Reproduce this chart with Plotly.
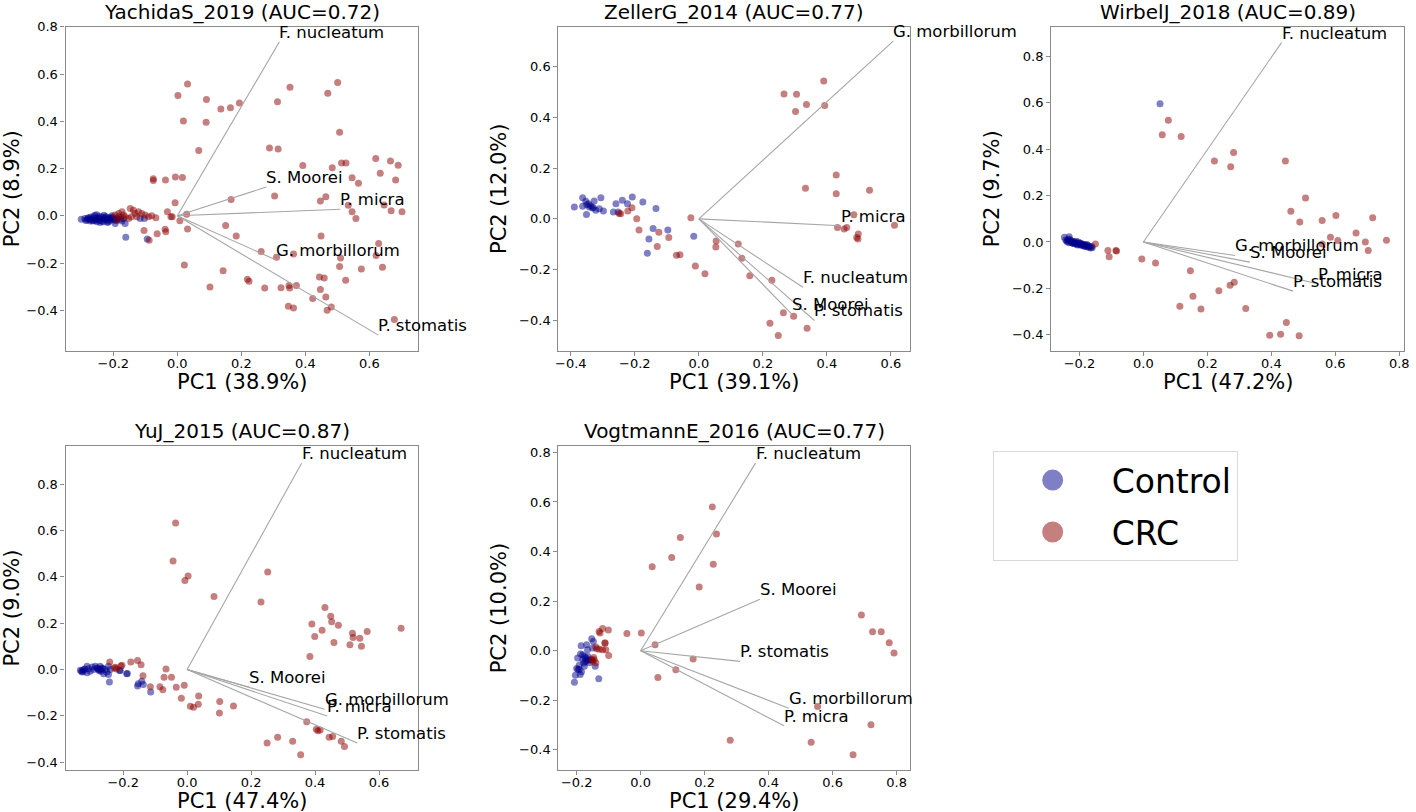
import plotly.graph_objects as go

FONT = "DejaVu Sans"
CTRL_COLOR = "rgba(0,0,139,0.5)"
CRC_COLOR = "rgba(139,0,0,0.5)"
CTRL_LEGEND = "#7f7fc6"
CRC_LEGEND = "#c57f7f"
LOAD_COLOR = "#a6a6a6"
FRAME_COLOR = "#8a8a8a"

titles = ["YachidaS_2019 (AUC=0.72)", "ZellerG_2014 (AUC=0.77)", "WirbelJ_2018 (AUC=0.89)",
          "YuJ_2015 (AUC=0.87)", "VogtmannE_2016 (AUC=0.77)"]
pc1_labels = ["PC1 (38.9%)", "PC1 (39.1%)", "PC1 (47.2%)", "PC1 (47.4%)", "PC1 (29.4%)"]
pc2_labels = ["PC2 (8.9%)", "PC2 (12.0%)", "PC2 (9.7%)", "PC2 (9.0%)", "PC2 (10.0%)"]

# ---------------- YachidaS_2019 ----------------
p1_ctrl_x = [-0.300, -0.289, -0.282, -0.277, -0.272, -0.266, -0.261, -0.256, -0.251, -0.246,
             -0.240, -0.235, -0.230, -0.225, -0.220, -0.215, -0.209, -0.204, -0.199, -0.194,
             -0.189, -0.183, -0.178, -0.173, -0.168, -0.163, -0.116, -0.103, -0.161, -0.094,
             -0.270, -0.260, -0.250, -0.245, -0.235, -0.231, -0.226, -0.221, -0.211, -0.255,
             -0.265, -0.241, -0.280, -0.252, -0.229, -0.214, -0.201, -0.191, -0.286, -0.274,
             -0.243, -0.218, -0.207, -0.196, -0.258]
p1_ctrl_y = [-0.014, -0.011, -0.018, -0.008, -0.022, -0.014, -0.004, -0.018, -0.025, -0.008,
             -0.015, -0.022, -0.011, -0.004, -0.018, -0.025, -0.011, 0.000, -0.018, -0.032,
             -0.011, -0.004, -0.014, -0.022, -0.011, -0.032, -0.011, -0.011, -0.091, -0.098,
             -0.005, -0.020, -0.010, -0.020, -0.005, -0.025, -0.015, -0.005, -0.020, -0.012,
             -0.022, -0.028, -0.010, 0.005, 0.002, -0.010, -0.008, -0.020, -0.020, -0.015,
             -0.002, -0.028, -0.006, -0.014, 0.002]
p1_crc_x = [0.032, 0.002, 0.091, 0.136, 0.166, 0.194, 0.019, 0.090, 0.067, 0.352,
            0.501, 0.470, 0.313, 0.507, 0.288, 0.315, 0.392, 0.484, 0.513, 0.527,
            0.620, 0.666, 0.690, 0.634, 0.682, 0.546, 0.566, -0.075, -0.075, -0.037,
            -0.006, 0.016, -0.007, 0.168, 0.304, 0.464, 0.447, 0.534, 0.646, 0.546,
            0.558, 0.668, 0.702, 0.029, -0.031, -0.020, -0.016, 0.008, 0.032, -0.038,
            -0.036, -0.063, -0.104, -0.088, 0.151, 0.184, 0.262, 0.449, 0.363, 0.310,
            0.510, 0.629, 0.621, 0.507, 0.575, 0.641, 0.526, 0.444, 0.459, 0.022,
            0.143, 0.219, 0.224, 0.102, 0.273, 0.324, 0.349, 0.351, 0.372, 0.447,
            0.423, 0.464, 0.347, 0.363, 0.481, 0.468, 0.678,
            -0.194, -0.183, -0.173, -0.168, -0.163, -0.178, -0.147, -0.137, -0.132, -0.121,
            -0.111, -0.101, -0.144, -0.127, -0.090, -0.080, -0.067, -0.152, -0.189]
p1_crc_y = [0.558, 0.509, 0.492, 0.452, 0.457, 0.478, 0.401, 0.396, 0.276, 0.544,
            0.564, 0.519, 0.483, 0.354, 0.287, 0.283, 0.213, 0.204, 0.224, 0.224,
            0.243, 0.232, 0.214, 0.180, 0.152, 0.161, 0.138, 0.157, 0.150, 0.152,
            0.164, 0.162, 0.055, 0.069, 0.084, 0.081, 0.063, 0.045, 0.046, 0.017,
            -0.011, 0.021, 0.017, 0.007, 0.017, -0.004, -0.004, -0.021, -0.056, -0.057,
            -0.067, -0.076, -0.062, -0.103, -0.041, -0.085, -0.151, -0.085, -0.162, -0.175,
            -0.179, -0.117, -0.168, -0.215, -0.225, -0.218, -0.273, -0.259, -0.263, -0.208,
            -0.232, -0.269, -0.277, -0.301, -0.306, -0.305, -0.295, -0.306, -0.295, -0.312,
            -0.350, -0.344, -0.383, -0.390, -0.386, -0.400, -0.439,
            0.003, 0.010, 0.017, 0.003, -0.004, -0.008, 0.031, 0.024, 0.010, 0.017,
            0.010, 0.003, -0.004, -0.004, -0.004, 0.000, -0.008, -0.011, -0.018]
p1_species = ["F. nucleatum", "S. Moorei", "P. micra", "G. morbillorum", "P. stomatis"]
p1_load_x = [0.319, 0.278, 0.509, 0.307, 0.628]
p1_load_y = [0.737, 0.122, 0.028, -0.186, -0.505]

# ---------------- ZellerG_2014 ----------------
p2_ctrl_x = [-0.389, -0.363, -0.363, -0.353, -0.350, -0.342, -0.351, -0.332, -0.327, -0.322,
             -0.311, -0.306, -0.298, -0.259, -0.267, -0.252, -0.239, -0.223, -0.208, -0.175,
             -0.134, -0.143, -0.097, -0.156, -0.161, -0.016, -0.338, -0.330, -0.345]
p2_ctrl_y = [0.047, 0.083, 0.050, 0.069, 0.056, 0.047, 0.017, 0.043, 0.070, 0.034,
             0.040, 0.083, 0.031, 0.060, 0.027, 0.027, 0.073, 0.060, 0.086, 0.066,
             0.041, -0.038, -0.044, -0.079, -0.135, -0.068, 0.052, 0.045, 0.060]
p2_crc_x = [0.390, 0.266, 0.305, 0.336, 0.393, 0.302, 0.429, 0.333, 0.429, 0.533,
            0.484, 0.433, 0.454, 0.462, 0.493, 0.497, 0.498, 0.611, -0.025, 0.054,
            0.053, 0.123, 0.134, 0.159, 0.228, -0.011, 0.019, -0.070, -0.059, -0.094,
            -0.125, -0.130, -0.187, -0.194, -0.222, -0.209, -0.249, -0.244, 0.264, 0.296,
            0.222, 0.248, 0.338]
p2_crc_y = [0.543, 0.492, 0.491, 0.450, 0.446, 0.423, 0.173, 0.121, 0.099, 0.113,
            0.016, -0.034, -0.040, -0.034, -0.073, -0.079, -0.060, -0.025, 0.004, -0.087,
            -0.111, -0.099, -0.155, -0.224, -0.242, -0.186, -0.216, -0.143, -0.141, -0.073,
            -0.053, -0.109, -0.044, 0.000, 0.031, 0.044, 0.021, 0.020, -0.370, -0.383,
            -0.411, -0.459, -0.431]
p2_species = ["G. morbillorum", "P. micra", "F. nucleatum", "S. Moorei", "P. stomatis"]
p2_load_x = [0.607, 0.444, 0.325, 0.291, 0.361]
p2_load_y = [0.700, -0.027, -0.269, -0.376, -0.400]

# ---------------- WirbelJ_2018 ----------------
p3_ctrl_x = [-0.247, -0.232, -0.243, -0.239, -0.236, -0.233, -0.229, -0.227, -0.224, -0.221,
             -0.219, -0.216, -0.213, -0.211, -0.208, -0.205, -0.203, -0.199, -0.197, -0.194,
             -0.191, -0.188, -0.186, -0.183, -0.180, -0.177, -0.174, -0.171, -0.168, -0.165,
             -0.162, -0.160, -0.231, -0.222, -0.214, -0.206, -0.196, -0.185, -0.176, -0.238,
             0.052]
p3_ctrl_y = [0.020, 0.023, 0.008, 0.002, 0.010, -0.003, 0.006, -0.001, 0.004, -0.006,
             0.002, -0.008, -0.002, 0.003, -0.010, -0.005, 0.000, -0.012, -0.006, -0.014,
             -0.009, -0.016, -0.011, -0.019, -0.013, -0.021, -0.016, -0.023, -0.018, -0.026,
             -0.020, -0.024, 0.012, -0.003, -0.005, -0.013, -0.008, -0.014, -0.011, 0.005,
             0.596]
p3_crc_x = [-0.150, -0.111, -0.107, -0.086, -0.084, -0.005, 0.038, 0.147, 0.114, 0.155,
            0.180, 0.236, 0.271, 0.284, 0.320, 0.395, 0.429, 0.447, 0.487, 0.078,
            0.059, 0.118, 0.222, 0.282, 0.273, 0.444, 0.507, 0.461, 0.489, 0.559,
            0.602, 0.717, 0.585, 0.559, 0.608, 0.665, 0.694, 0.703, 0.760]
p3_crc_y = [-0.009, -0.037, -0.064, -0.037, -0.039, -0.073, -0.091, -0.124, -0.277, -0.234,
            -0.289, -0.210, -0.187, -0.174, -0.287, -0.402, -0.398, -0.347, -0.404, 0.525,
            0.463, 0.455, 0.349, 0.386, 0.325, 0.349, 0.190, 0.133, 0.086, 0.093,
            0.114, 0.104, 0.020, -0.009, 0.006, 0.039, 0.000, -0.037, 0.007]
p3_species = ["F. nucleatum", "G. morbillorum", "S. Moorei", "P. micra", "P. stomatis"]
p3_load_x = [0.432, 0.287, 0.333, 0.546, 0.468]
p3_load_y = [0.860, -0.058, -0.087, -0.181, -0.212]

# ---------------- YuJ_2015 ----------------
p4_ctrl_x = [-0.334, -0.329, -0.323, -0.313, -0.313, -0.308, -0.303, -0.297, -0.292, -0.287,
             -0.282, -0.277, -0.272, -0.269, -0.266, -0.261, -0.256, -0.251, -0.246, -0.240,
             -0.246, -0.209, -0.189, -0.243, -0.153, -0.142, -0.137, -0.155, -0.114, -0.330,
             -0.325, -0.320, -0.280, -0.275, -0.270, -0.265, -0.211, -0.187]
p4_ctrl_y = [-0.003, -0.010, 0.000, 0.014, -0.014, 0.004, -0.007, 0.011, 0.000, 0.014,
             0.007, 0.000, 0.014, -0.007, 0.007, -0.018, 0.000, -0.010, 0.014, 0.000,
             -0.021, -0.004, -0.018, -0.054, -0.061, -0.050, -0.064, -0.071, -0.097, -0.005,
             -0.008, 0.002, 0.005, -0.005, 0.000, 0.005, -0.004, -0.017]
p4_crc_x = [-0.036, -0.044, 0.003, -0.007, 0.084, 0.252, 0.231, 0.431, 0.449, 0.452,
            0.390, 0.422, 0.473, 0.399, 0.459, 0.517, 0.519, 0.540, 0.563, 0.509,
            0.545, 0.669, 0.384, -0.066, -0.072, -0.049, -0.034, -0.009, -0.018, 0.036,
            0.010, 0.020, 0.035, 0.102, 0.145, 0.101, -0.085, -0.076, -0.115, -0.138,
            -0.144, -0.155, -0.176, -0.204, -0.207, -0.221, -0.227, -0.242, 0.374, 0.404,
            0.409, 0.416, 0.444, 0.455, 0.482, 0.492, 0.283, 0.250, 0.330, 0.355,
            -0.224]
p4_crc_y = [0.633, 0.469, 0.404, 0.385, 0.315, 0.421, 0.292, 0.268, 0.230, 0.207,
            0.197, 0.170, 0.191, 0.143, 0.117, 0.157, 0.138, 0.135, 0.164, 0.107,
            0.101, 0.178, 0.056, 0.003, -0.033, -0.033, -0.076, -0.068, -0.124, -0.114,
            -0.158, -0.163, -0.150, -0.138, -0.157, -0.187, -0.074, -0.087, -0.074, -0.027,
            0.021, 0.039, 0.033, 0.019, 0.016, 0.003, 0.007, 0.033, -0.225, -0.257,
            -0.264, -0.261, -0.292, -0.289, -0.309, -0.332, -0.292, -0.317, -0.309, -0.368,
            0.010]
p4_species = ["F. nucleatum", "S. Moorei", "G. morbillorum", "P. micra", "P. stomatis"]
p4_load_x = [0.358, 0.195, 0.430, 0.438, 0.532]
p4_load_y = [0.891, -0.076, -0.171, -0.200, -0.317]

# ---------------- VogtmannE_2016 ----------------
p5_ctrl_x = [-0.207, -0.204, -0.200, -0.192, -0.186, -0.188, -0.181, -0.176, -0.169, -0.166,
             -0.164, -0.153, -0.148, -0.150, -0.160, -0.185, -0.173, -0.189, -0.142, -0.131,
             -0.171, -0.192, -0.176, -0.197, -0.155, -0.165, -0.181, -0.196, -0.178, -0.168]
p5_ctrl_y = [-0.127, -0.099, -0.072, -0.076, 0.020, -0.013, -0.036, -0.023, 0.024, 0.004,
             -0.036, 0.048, 0.037, 0.011, -0.049, -0.085, -0.045, -0.096, -0.063, -0.113,
             -0.029, -0.059, -0.063, -0.029, -0.036, -0.023, -0.016, -0.076, -0.050, -0.040]
p5_crc_x = [0.224, 0.237, 0.124, 0.097, 0.036, 0.227, 0.183, 0.690, 0.725, 0.752,
            0.777, 0.792, -0.043, 0.002, 0.045, 0.164, 0.110, 0.054, 0.553, 0.720,
            0.280, 0.533, 0.664, -0.119, -0.101, -0.130, -0.127, -0.111, -0.140, -0.137,
            -0.112, -0.109, -0.100, -0.152, -0.147, -0.140, -0.129, -0.119, -0.150, -0.145]
p5_crc_y = [0.580, 0.471, 0.457, 0.376, 0.339, 0.349, 0.257, 0.144, 0.076, 0.076,
            0.032, -0.009, 0.069, 0.071, 0.024, -0.033, -0.077, -0.108, -0.225, -0.299,
            -0.361, -0.369, -0.420, 0.090, 0.084, 0.077, 0.071, 0.031, 0.015, 0.008,
            0.031, 0.004, -0.019, -0.036, -0.027, -0.049, 0.006, 0.004, -0.043, -0.036]
p5_species = ["F. nucleatum", "S. Moorei", "P. stomatis", "G. morbillorum", "P. micra"]
p5_load_x = [0.359, 0.373, 0.311, 0.463, 0.448]
p5_load_y = [0.757, 0.208, -0.043, -0.232, -0.303]

panels = [
    (p1_ctrl_x, p1_ctrl_y, p1_crc_x, p1_crc_y, p1_species, p1_load_x, p1_load_y),
    (p2_ctrl_x, p2_ctrl_y, p2_crc_x, p2_crc_y, p2_species, p2_load_x, p2_load_y),
    (p3_ctrl_x, p3_ctrl_y, p3_crc_x, p3_crc_y, p3_species, p3_load_x, p3_load_y),
    (p4_ctrl_x, p4_ctrl_y, p4_crc_x, p4_crc_y, p4_species, p4_load_x, p4_load_y),
    (p5_ctrl_x, p5_ctrl_y, p5_crc_x, p5_crc_y, p5_species, p5_load_x, p5_load_y),
]

# layout geometry (pixels of the 1416x812 canvas)
W, H = 1416, 812
col_px = [(63, 418), (559, 913.3), (1055, 1410)]
row_px = [(20, 346.7), (443.3, 769.3)]
cells = [(0, 0), (0, 1), (0, 2), (1, 0), (1, 1)]
x_ranges = [(-0.349, 0.753), (-0.4386, 0.661), (-0.288, 0.815), (-0.380, 0.723), (-0.257, 0.8435)]
y_ranges = [(-0.571, 0.800), (-0.519, 0.756), (-0.469, 0.928), (-0.432, 0.963), (-0.480, 0.824)]

fig = go.Figure()
annotations = []
layout_axes = {}

for i, (cx, cy, rx, ry, names, lx, ly) in enumerate(panels):
    n = i + 1
    xa = "x" if n == 1 else f"x{n}"
    ya = "y" if n == 1 else f"y{n}"
    r, c = cells[i]
    x0p, x1p = col_px[c]
    y0p, y1p = row_px[r]
    xdom = [x0p / W, x1p / W]
    ydom = [1 - y1p / H, 1 - y0p / H]

    fig.add_trace(go.Scatter(x=cx, y=cy, mode="markers", xaxis=xa, yaxis=ya,
                             marker=dict(size=7, color=CTRL_COLOR, line=dict(width=0)),
                             showlegend=False, hoverinfo="skip"))
    fig.add_trace(go.Scatter(x=rx, y=ry, mode="markers", xaxis=xa, yaxis=ya,
                             marker=dict(size=7, color=CRC_COLOR, line=dict(width=0)),
                             showlegend=False, hoverinfo="skip"))
    seg_x, seg_y = [], []
    for tx, ty in zip(lx, ly):
        seg_x += [0, tx, None]
        seg_y += [0, ty, None]
    fig.add_trace(go.Scatter(x=seg_x, y=seg_y, mode="lines", xaxis=xa, yaxis=ya,
                             line=dict(color=LOAD_COLOR, width=1.1),
                             showlegend=False, hoverinfo="skip", cliponaxis=False))
    for name, tx, ty in zip(names, lx, ly):
        annotations.append(dict(x=tx, y=ty, xref=xa, yref=ya, text=name, showarrow=False,
                                xanchor="left", yanchor="bottom", yshift=-1, xshift=-1,
                                borderpad=0,
                                font=dict(family=FONT, size=16.5, color="black")))
    # panel title
    annotations.append(dict(x=(xdom[0] + xdom[1]) / 2, y=ydom[1], xref="paper", yref="paper",
                            text=titles[i], showarrow=False, xanchor="center", yanchor="bottom",
                            yshift=2, borderpad=0,
                            font=dict(family=FONT, size=20, color="black")))
    # PC1 axis title
    annotations.append(dict(x=(xdom[0] + xdom[1]) / 2, y=ydom[0], xref="paper", yref="paper",
                            text=pc1_labels[i], showarrow=False, xanchor="center", yanchor="middle",
                            yshift=-31, borderpad=0,
                            font=dict(family=FONT, size=21, color="black")))

    axis_common = dict(showgrid=False, zeroline=False, showline=True, mirror=True,
                       linecolor=FRAME_COLOR, linewidth=1.3, ticks="outside", ticklen=4,
                       tickwidth=1, tickcolor=FRAME_COLOR, dtick=0.2, tick0=0,
                       tickformat=".1f",
                       tickfont=dict(family=FONT, size=13, color="black"))
    layout_axes["xaxis" if n == 1 else f"xaxis{n}"] = dict(
        axis_common, domain=xdom, range=list(x_ranges[i]), anchor=ya, ticklabelstandoff=-3)
    layout_axes["yaxis" if n == 1 else f"yaxis{n}"] = dict(
        axis_common, domain=ydom, range=list(y_ranges[i]), anchor=xa,
        title=dict(text=pc2_labels[i], standoff=6, font=dict(family=FONT, size=21, color="black")))

# legend entries
legend_names = ["Control", "CRC"]
legend_colors = [CTRL_LEGEND, CRC_LEGEND]
for name, col in zip(legend_names, legend_colors):
    fig.add_trace(go.Scatter(x=[None], y=[None], mode="markers", name=name,
                             legendgroup=name,
                             marker=dict(size=16, color=col, line=dict(width=5, color=col))))

fig.update_layout(
    width=W, height=H,
    margin=dict(l=0, r=0, t=0, b=0),
    paper_bgcolor="white", plot_bgcolor="white",
    font=dict(family=FONT, color="black"),
    annotations=annotations,
    legend=dict(x=996 / W, y=1 - 448 / H, xanchor="left", yanchor="top",
                bordercolor="#d9d9d9", borderwidth=1, bgcolor="white",
                font=dict(family=FONT, size=33, color="black"),
                itemwidth=108, tracegroupgap=6),
    **layout_axes,
)

fig.write_html("out.html", config={"displayModeBar": False},
               post_script="document.body.style.margin='0px';document.body.style.padding='0px';")
